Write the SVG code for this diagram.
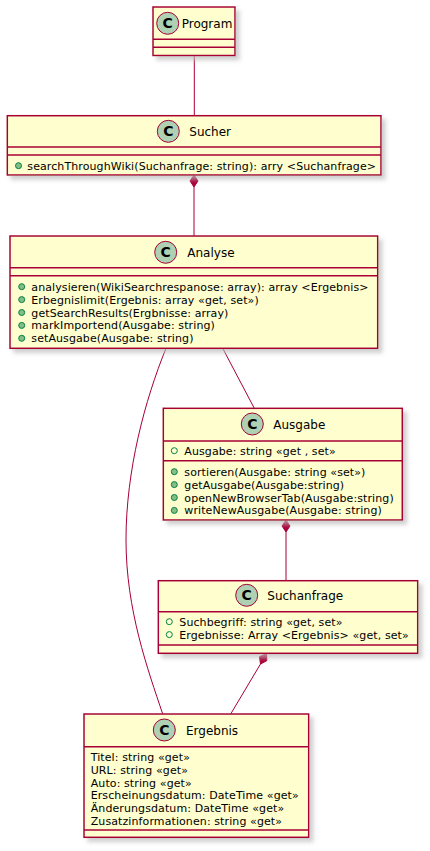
<svg xmlns="http://www.w3.org/2000/svg" width="430" height="851" viewBox="0 0 430 851">
<defs>
<filter id="sh" x="-10%" y="-10%" width="130%" height="140%">
<feGaussianBlur in="SourceAlpha" stdDeviation="2"/>
<feOffset dx="4" dy="4" result="b"/>
<feColorMatrix in="b" type="matrix" values="0 0 0 0 0.5  0 0 0 0 0.5  0 0 0 0 0.5  0 0 0 0.7 0" result="c"/>
<feMerge><feMergeNode in="c"/><feMergeNode in="SourceGraphic"/></feMerge>
</filter>
<style>
.box{fill:#FEFECE;stroke:#A80036;stroke-width:1.5;filter:url(#sh)}
.sep{stroke:#A80036;stroke-width:1.5}
.ci{fill:#ADD1B2;stroke:#A80036;stroke-width:1}
.cl{font-family:"DejaVu Sans",sans-serif;font-size:14px;font-weight:bold;fill:#000;text-anchor:middle}
.t{font-family:"DejaVu Sans",sans-serif;font-size:12px;fill:#000}
.m{font-family:"DejaVu Sans",sans-serif;font-size:11px;letter-spacing:0.1px;fill:#000}
.pm{fill:#84BE84;stroke:#038048;stroke-width:1}
.pf{fill:none;stroke:#038048;stroke-width:1}
.ln{fill:none;stroke:#A80036;stroke-width:1}
.dm{fill:#A80036;stroke:#A80036;stroke-width:1}
</style>
</defs>
<g id="connectors">
<path class="ln" d="M194.3,55.5 L194.3,115.7"/>
<path class="ln" d="M194,187 L194,236"/>
<polygon class="dm" points="194,175 198,181 194,187 190,181"/>
<path class="ln" d="M222.7,348.3 L254.3,408.3"/>
<path class="ln" d="M166,348.3 C145,400 126,470 126,540 C126,610 148,670 162.7,714"/>
<path class="ln" d="M286,532 L286,580.7"/>
<polygon class="dm" points="286,520 290,526 286,532 282,526"/>
<path class="ln" d="M260.5,664 L230.7,714"/>
<polygon class="dm" points="266.5,653.5 266.8,660.7 260.5,664 259.5,656.7"/>
</g>
<g id="Program">
<rect class="box" x="153" y="7" width="82" height="48.5"/>
<line class="sep" x1="153" y1="39.3" x2="235" y2="39.3"/>
<line class="sep" x1="153" y1="47.3" x2="235" y2="47.3"/>
<circle class="ci" cx="167.7" cy="23.3" r="11"/>
<text class="cl" x="167.7" y="28.3">C</text>
<text class="t" x="181.7" y="27.8">Program</text>
</g>
<g id="Sucher">
<rect class="box" x="7.3" y="115.7" width="373.7" height="59.3"/>
<line class="sep" x1="7.3" y1="147" x2="381" y2="147"/>
<line class="sep" x1="7.3" y1="155" x2="381" y2="155"/>
<circle class="ci" cx="168.3" cy="131.3" r="11"/>
<text class="cl" x="168.3" y="136.3">C</text>
<text class="t" x="189.3" y="135.8">Sucher</text>
<circle class="pm" cx="18.5" cy="165.7" r="3"/>
<text class="m" x="27.3" y="169.7">searchThroughWiki(Suchanfrage: string): arry &lt;Suchanfrage&gt;</text>
</g>
<g id="Analyse">
<rect class="box" x="10" y="236" width="367.7" height="112.3"/>
<line class="sep" x1="10" y1="267.7" x2="377.7" y2="267.7"/>
<line class="sep" x1="10" y1="275.7" x2="377.7" y2="275.7"/>
<circle class="ci" cx="165.7" cy="252.3" r="11"/>
<text class="cl" x="165.7" y="257.3">C</text>
<text class="t" x="187.3" y="256.8">Analyse</text>
<circle class="pm" cx="21.7" cy="286.7" r="3"/>
<circle class="pm" cx="21.7" cy="299.6" r="3"/>
<circle class="pm" cx="21.7" cy="312.5" r="3"/>
<circle class="pm" cx="21.7" cy="325.4" r="3"/>
<circle class="pm" cx="21.7" cy="338.3" r="3"/>
<text class="m" x="31.3" y="290.7">analysieren(WikiSearchrespanose: array): array &lt;Ergebnis&gt;</text>
<text class="m" x="31.3" y="303.6">Erbegnislimit(Ergebnis: array «get, set»)</text>
<text class="m" x="31.3" y="316.5">getSearchResults(Ergbnisse: array)</text>
<text class="m" x="31.3" y="329.4">markImportend(Ausgabe: string)</text>
<text class="m" x="31.3" y="342.3">setAusgabe(Ausgabe: string)</text>
</g>
<g id="Ausgabe">
<rect class="box" x="163.3" y="408.3" width="239" height="111.7"/>
<line class="sep" x1="163.3" y1="441" x2="402.3" y2="441"/>
<line class="sep" x1="163.3" y1="460.7" x2="402.3" y2="460.7"/>
<circle class="ci" cx="252.3" cy="424" r="11"/>
<text class="cl" x="252.3" y="429">C</text>
<text class="t" x="273.3" y="428.5">Ausgabe</text>
<circle class="pf" cx="174.3" cy="450.7" r="3"/>
<text class="m" x="184.3" y="454.7">Ausgabe: string «get , set»</text>
<circle class="pm" cx="174.3" cy="471.7" r="3"/>
<circle class="pm" cx="174.3" cy="484.6" r="3"/>
<circle class="pm" cx="174.3" cy="497.5" r="3"/>
<circle class="pm" cx="174.3" cy="510.4" r="3"/>
<text class="m" x="184.3" y="475.7">sortieren(Ausgabe: string «set»)</text>
<text class="m" x="184.3" y="488.6">getAusgabe(Ausgabe:string)</text>
<text class="m" x="184.3" y="501.5">openNewBrowserTab(Ausgabe:string)</text>
<text class="m" x="184.3" y="514.4">writeNewAusgabe(Ausgabe: string)</text>
</g>
<g id="Suchanfrage">
<rect class="box" x="158.3" y="580.7" width="259.4" height="72.6"/>
<line class="sep" x1="158.3" y1="611.7" x2="417.7" y2="611.7"/>
<line class="sep" x1="158.3" y1="645" x2="417.7" y2="645"/>
<circle class="ci" cx="246.7" cy="595.3" r="11"/>
<text class="cl" x="246.7" y="600.3">C</text>
<text class="t" x="267.3" y="599.8">Suchanfrage</text>
<circle class="pf" cx="169.3" cy="621.7" r="3"/>
<circle class="pf" cx="169.3" cy="634.6" r="3"/>
<text class="m" x="179.3" y="625.7">Suchbegriff: string «get, set»</text>
<text class="m" x="179.3" y="638.6">Ergebnisse: Array &lt;Ergebnis&gt; «get, set»</text>
</g>
<g id="Ergebnis">
<rect class="box" x="84" y="714" width="224.7" height="123.3"/>
<line class="sep" x1="84" y1="746.7" x2="308.7" y2="746.7"/>
<line class="sep" x1="84" y1="830" x2="308.7" y2="830"/>
<circle class="ci" cx="164.3" cy="730" r="11"/>
<text class="cl" x="164.3" y="735">C</text>
<text class="t" x="186" y="734.5">Ergebnis</text>
<text class="m" x="90.7" y="760.7">Titel: string «get»</text>
<text class="m" x="90.7" y="773.6">URL: string «get»</text>
<text class="m" x="90.7" y="786.5">Auto: string «get»</text>
<text class="m" x="90.7" y="799.4">Erscheinungsdatum: DateTime «get»</text>
<text class="m" x="90.7" y="812.3">Änderungsdatum: DateTime «get»</text>
<text class="m" x="90.7" y="825.2">Zusatzinformationen: string «get»</text>
</g>
</svg>
